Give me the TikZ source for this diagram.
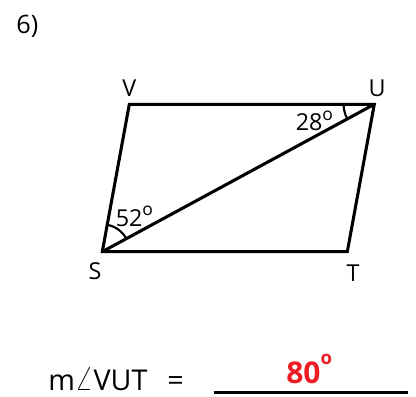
\documentclass[tikz,border=0pt]{standalone}
\usepackage{fontspec}
\usepackage{graphicx}
\setmainfont{Open Sans}
\usetikzlibrary{angles}
\definecolor{ansred}{RGB}{237,28,36}
\newcommand\degsmall{\raisebox{0.43em}{\scalebox{0.75}{o}}}
\newcommand\degbig{\raisebox{0.62em}{\scalebox{0.62}{o}}}
\begin{document}
\begin{tikzpicture}[x=0.75pt,y=-0.75pt,
  edge/.style={line width=2.3pt,line join=miter},
  lbl/.style={inner sep=0pt,anchor=base,font=\fontsize{17.5}{20}\selectfont},
  anglbl/.style={inner sep=0pt,anchor=base west,font=\fontsize{17.5}{20}\selectfont},
  arcstyle/.style={draw,line width=1.6pt},
  bottomtext/.style={inner sep=0pt,anchor=base west,font=\fontsize{21.5}{24}\selectfont}]
\useasboundingbox (0,0) rectangle (416,396);
\coordinate (V) at (129.3,104.3);
\coordinate (U) at (374.3,104.3);
\coordinate (S) at (102.3,251.7);
\coordinate (T) at (347.3,251.7);
\node[inner sep=0pt,anchor=base west,font=\fontsize{19}{22}\selectfont] (num) at (16,33) {6)};
\draw[edge] (S) -- (V) -- (U) -- (T) -- cycle;
\draw[edge] (S) -- (U);
\pic[arcstyle, angle radius=20.5pt] {angle = U--S--V};
\pic[arcstyle, angle radius=23pt] {angle = V--U--S};
\node[lbl] (lV) at (129.3,96) {V};
\node[lbl] (lU) at (377,96) {U};
\node[lbl] (lS) at (95,279.5) {S};
\node[lbl] (lT) at (353,281.5) {T};
\node[anglbl] (a28) at (295.5,130.7) {28\degsmall};
\node[anglbl] (a52) at (115.5,226) {52\degsmall};
\node[bottomtext] (eq) at (48,390) {m\scalebox{1.25}{$\angle$}VUT};
\node[bottomtext] (eqsign) at (167,390) {=};
\node[inner sep=0pt,anchor=base west,font=\fontsize{22.5}{26}\selectfont\bfseries,text=ansred] (ans) at (286,383) {80\degbig};
\coordinate (l1) at (214,392.5);
\coordinate (l2) at (408,392.5);
\draw[line width=1.6pt] (l1) -- (l2);
\end{tikzpicture}
\end{document}
